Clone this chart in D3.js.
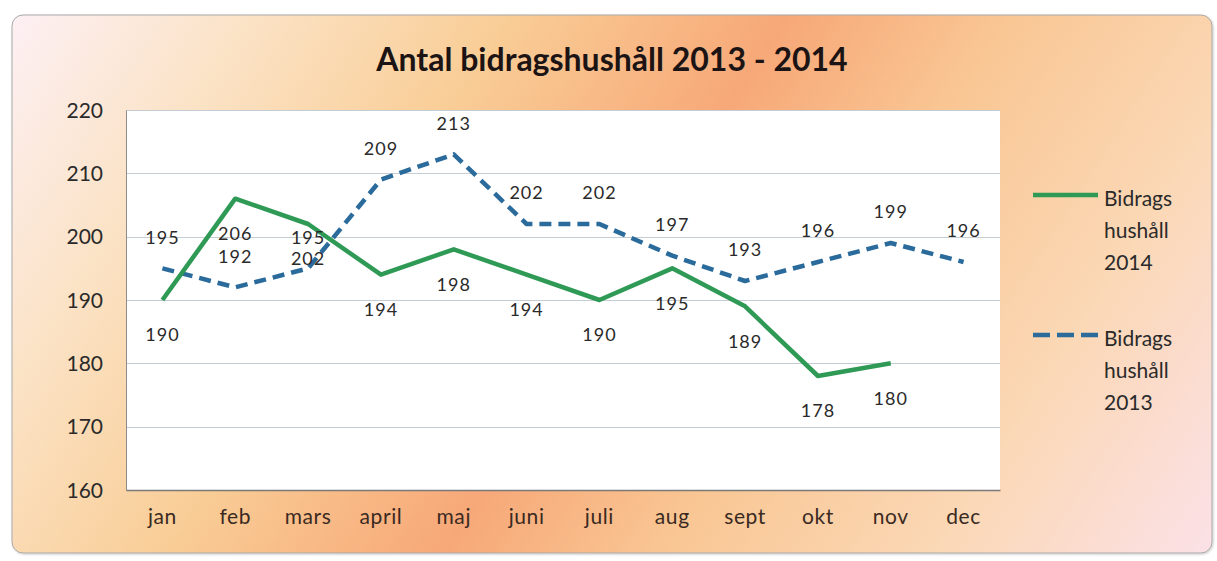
<!DOCTYPE html>
<html>
<head>
<meta charset="utf-8">
<script src="https://cdn.jsdelivr.net/npm/d3@7"></script>
<style>
  html, body { margin: 0; padding: 0; background: #ffffff; }
  svg { display: block; }
  text { font-family: Lato, "Open Sans", sans-serif; }
</style>
</head>
<body>
<svg id="chart" width="1217" height="561"></svg>
<script>
// Monthly counts of households receiving support
const months = ["jan", "feb", "mars", "april", "maj", "juni", "juli", "aug", "sept", "okt", "nov", "dec"];
const values2014 = [190, 206, 202, 194, 198, 194, 190, 195, 189, 178, 180];
const values2013 = [195, 192, 195, 209, 213, 202, 202, 197, 193, 196, 199, 196];
const yTicks = [160, 170, 180, 190, 200, 210, 220];
const titleText = "Antal bidragshushåll 2013 - 2014";
const legendLabels = [["Bidrags", "hushåll", "2014"], ["Bidrags", "hushåll", "2013"]];

const W = 1217, H = 561;
const frame = { x: 12, y: 15, w: 1200, h: 538 };
const plot = { left: 126, right: 1000, top: 110, bottom: 490 };

const svg = d3.select("#chart");
const defs = svg.append("defs");

// Warm diagonal background of the chart area
const bg = defs.append("linearGradient")
  .attr("id", "bgGrad")
  .attr("gradientUnits", "userSpaceOnUse")
  .attr("x1", 64).attr("y1", -66)
  .attr("x2", 1163).attr("y2", 638);
[
  [0.00, "#fdf0f4"],
  [0.16, "#fbe2c4"],
  [0.32, "#f9cd96"],
  [0.50, "#f7a878"],
  [0.64, "#f9c693"],
  [0.82, "#fbd8b6"],
  [1.00, "#fbe1e8"]
].forEach(([o, c]) => bg.append("stop").attr("offset", o).attr("stop-color", c));

// Soft shadow under the frame
const shadow = defs.append("filter").attr("id", "shadow").attr("x", "-5%").attr("y", "-5%").attr("width", "110%").attr("height", "110%");
shadow.append("feDropShadow").attr("dx", 1).attr("dy", 1).attr("stdDeviation", 1).attr("flood-color", "#000").attr("flood-opacity", 0.2);

svg.append("rect")
  .attr("x", frame.x).attr("y", frame.y)
  .attr("width", frame.w).attr("height", frame.h)
  .attr("rx", 11).attr("ry", 11)
  .attr("fill", "url(#bgGrad)")
  .attr("stroke", "#a9a9a9").attr("stroke-width", 1)
  .attr("filter", "url(#shadow)");

// Scales
const x = d3.scaleBand().domain(months).range([plot.left, plot.right]).padding(0);
const cx = m => x(m) + x.bandwidth() / 2;
const y = d3.scaleLinear().domain([160, 220]).range([plot.bottom, plot.top]);

// Plot area
svg.append("rect")
  .attr("x", plot.left).attr("y", plot.top)
  .attr("width", plot.right - plot.left).attr("height", plot.bottom - plot.top)
  .attr("fill", "#ffffff");

// Horizontal gridlines
svg.append("g")
  .selectAll("line")
  .data(yTicks.filter(t => t > 160))
  .join("line")
  .attr("x1", plot.left).attr("x2", plot.right)
  .attr("y1", d => Math.round(y(d)) + 0.5).attr("y2", d => Math.round(y(d)) + 0.5)
  .attr("stroke", "#c4ccd4").attr("stroke-width", 1);

// Axes
const yAxis = d3.axisLeft(y).tickValues(yTicks).tickSize(0).tickPadding(23);
const gy = svg.append("g").attr("transform", `translate(${plot.left},0)`).call(yAxis);
gy.select(".domain").attr("stroke", "#8c8c8c");
gy.selectAll("text").attr("font-size", 21).attr("fill", "#2a2a2a").attr("dy", "0.34em");

const xAxis = d3.axisBottom(x).tickSize(0).tickPadding(19);
const gx = svg.append("g").attr("transform", `translate(0,${plot.bottom})`).call(xAxis);
gx.select(".domain").attr("stroke", "#7a7a7a").attr("stroke-width", 1.5);
gx.selectAll("text").attr("font-size", 21).attr("fill", "#3a2a22").attr("dy", "0.72em")
  .attr("letter-spacing", "0.6px");

// Series
const series = [
  { key: "2014", values: values2014, color: "#2f9a55", dash: null, labelDy: 35 },
  { key: "2013", values: values2013, color: "#2a6b9c", dash: "12,7", labelDy: -31 }
];

const line = d3.line()
  .x((d, i) => cx(months[i]))
  .y(d => y(d));

// Draw 2013 first so 2014 sits on top where they cross
[series[1], series[0]].forEach(s => {
  svg.append("path")
    .datum(s.values)
    .attr("d", line)
    .attr("fill", "none")
    .attr("stroke", s.color)
    .attr("stroke-width", 4.5)
    .attr("stroke-linejoin", "round")
    .attr("stroke-dasharray", s.dash);
});

// Data labels
series.forEach(s => {
  svg.append("g")
    .selectAll("text")
    .data(s.values)
    .join("text")
    .attr("x", (d, i) => cx(months[i]))
    .attr("y", d => y(d) + s.labelDy)
    .attr("dy", "0.36em")
    .attr("text-anchor", "middle")
    .attr("font-size", 18)
    .attr("letter-spacing", "1px")
    .attr("fill", "#2a2a2a")
    .text(d => d);
});

// Title
svg.append("text")
  .attr("x", 612).attr("y", 59)
  .attr("dy", "0.36em")
  .attr("text-anchor", "middle")
  .attr("font-size", 32)
  .attr("font-weight", "bold")
  .attr("fill", "#1c1414")
  .text(titleText);

// Legend
const legend = svg.append("g");
const legendRows = [
  { s: series[0], y: 195, dash: null },
  { s: series[1], y: 335, dash: "17,7" }
];
legendRows.forEach((r, k) => {
  legend.append("line")
    .attr("x1", 1033).attr("x2", 1098)
    .attr("y1", r.y).attr("y2", r.y)
    .attr("stroke", r.s.color).attr("stroke-width", 4.5)
    .attr("stroke-dasharray", r.dash);
  legendLabels[k].forEach((t, j) => {
    legend.append("text")
      .attr("x", 1104).attr("y", r.y + 3 + j * 32)
      .attr("dy", "0.36em")
      .attr("font-size", 21)
      .attr("fill", "#2a2a2a")
      .text(t);
  });
});
</script>
</body>
</html>
